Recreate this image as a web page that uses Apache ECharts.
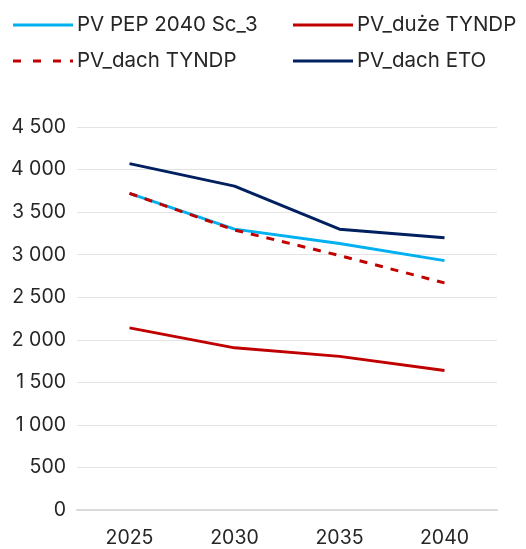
<!DOCTYPE html>
<html><head><meta charset="utf-8">
<script src="https://cdn.jsdelivr.net/npm/echarts@6/dist/echarts.min.js"></script>
<style>html,body{margin:0;padding:0;background:#fff}#c{width:526px;height:549px}</style>
</head><body><div id="c"></div>
<script>
var categories = ['2025','2030','2035','2040'];
var pvPep = [3720, 3300, 3130, 2930];
var pvDuze = [2140, 1905, 1805, 1640];
var pvDachTyndp = [3720, 3290, 2990, 2668];
var pvDachEto = [4070, 3805, 3300, 3200];
var names = ['PV PEP 2040 Sc_3','PV_duże TYNDP','PV_dach TYNDP','PV_dach ETO'];
var font = 'Inter, "Noto Sans", sans-serif';
var solidIcon = 'path://M0,0L60,0L60,3L0,3Z';
var dashIcon = 'path://M0,0h8v3h-8zM20,0h8v3h-8zM40,0h8v3h-8zM57,0h3v3h-3z';
var chart = echarts.init(document.getElementById('c'));
function fmt(v){return String(v).replace(/\B(?=(\d{3})+(?!\d))/g,' ');}
var legendBase = {orient:'vertical', itemWidth:60, itemHeight:3, itemGap:12, symbolKeepAspect:false, textStyle:{fontSize:20.5, color:'#262626', fontFamily:font, padding:[0,0,0,-1], lineHeight:24}};
chart.setOption({
  animation:false,
  legend:[
    Object.assign({left:8, top:8, data:[{name:names[0], icon:solidIcon}, {name:names[2], icon:dashIcon}]}, legendBase),
    Object.assign({left:288, top:8, data:[{name:names[1], icon:solidIcon}, {name:names[3], icon:solidIcon}]}, legendBase)
  ],
  grid:{left:77, right:29, top:127, bottom:39},
  xAxis:{type:'category', data:categories, boundaryGap:true,
    axisLine:{lineStyle:{color:'#d9d9d9', width:2}}, axisTick:{show:false},
    axisLabel:{fontSize:19.5, color:'#262626', fontFamily:font, margin:18}},
  yAxis:{type:'value', min:0, max:4500, interval:500,
    axisLine:{show:false}, axisTick:{show:false},
    splitLine:{lineStyle:{color:'#e3e3e3', width:1}},
    axisLabel:{fontSize:19.5, color:'#262626', fontFamily:font, margin:11, formatter:fmt}},
  series:[
    {name:names[0], type:'line', data:pvPep, symbol:'none', lineStyle:{color:'#00b0f0', width:3}, itemStyle:{color:'#00b0f0'}, z:3},
    {name:names[1], type:'line', data:pvDuze, symbol:'none', lineStyle:{color:'#c00000', width:3}, itemStyle:{color:'#c00000'}},
    {name:names[2], type:'line', data:pvDachTyndp, symbol:'none', lineStyle:{color:'#c00000', width:3, type:[8,8]}, itemStyle:{color:'#c00000'}, z:4},
    {name:names[3], type:'line', data:pvDachEto, symbol:'none', lineStyle:{color:'#002060', width:3}, itemStyle:{color:'#002060'}}
  ]
});
</script></body></html>
